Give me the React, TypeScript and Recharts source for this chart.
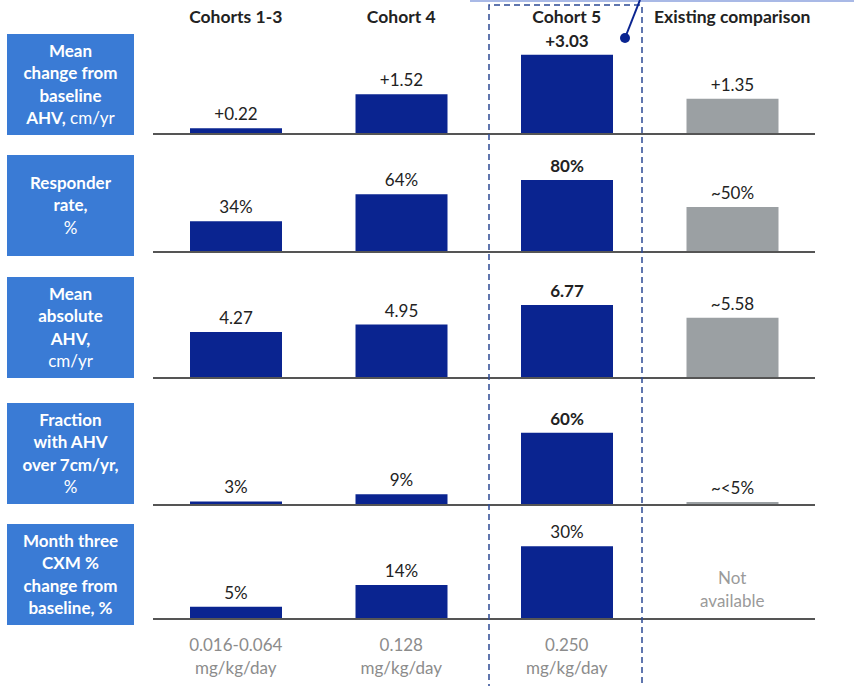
import React from 'react'
import { BarChart, Bar, XAxis, YAxis, Cell, LabelList } from 'recharts'

// column headers and dose captions
const cohorts = ['Cohorts 1-3', 'Cohort 4', 'Cohort 5', 'Existing comparison']
const doses = ['0.016-0.064', '0.128', '0.250']
const doseUnit = 'mg/kg/day'

// metric values per cohort (null = not available)
const ahvChange = [0.22, 1.52, 3.03, 1.35]
const ahvChangeLabels = ['+0.22', '+1.52', '+3.03', '+1.35']
const responderRate = [34, 64, 80, 50]
const responderRateLabels = ['34%', '64%', '80%', '~50%']
const absoluteAhv = [4.27, 4.95, 6.77, 5.58]
const absoluteAhvLabels = ['4.27', '4.95', '6.77', '~5.58']
const fractionOver7 = [3, 9, 60, 2.5]
const fractionOver7Labels = ['3%', '9%', '60%', '~<5%']
const cxmChange = [5, 14, 30, null]
const cxmChangeLabels = ['5%', '14%', '30%', '']

// row titles: each line is [bold part, regular part]
const metricTitles: [string, string][][] = [
  [['Mean', ''], ['change from', ''], ['baseline', ''], ['AHV,', ' cm/yr']],
  [['Responder', ''], ['rate,', ''], ['', '%']],
  [['Mean', ''], ['absolute', ''], ['AHV,', ''], ['', 'cm/yr']],
  [['Fraction', ''], ['with AHV', ''], ['over 7cm/yr,', ''], ['', '%']],
  [['Month three', ''], ['CXM %', ''], ['change from', ''], ['baseline, %', '']],
]

const rowValues = [ahvChange, responderRate, absoluteAhv, fractionOver7, cxmChange]
const rowLabels = [ahvChangeLabels, responderRateLabels, absoluteAhvLabels, fractionOver7Labels, cxmChangeLabels]
const rowMax = [3.82, 111, 9.26, 83, 41.2]
const boldCohort5 = [true, true, true, true, false]

const NAVY = '#0A2490'
const GREY = '#9BA0A3'
const BOX = '#3A7BD5'
const FONT = 'Lato, "Open Sans", sans-serif'

const plotLeft = 153
const plotWidth = 662
const plotHeight = 100
const topMargin = 30
const baselines = [134, 252, 378, 505, 619]
const boxTops = [34, 155, 277, 403, 524]
const colCenter = (i: number) => plotLeft + plotWidth / 8 + (i * plotWidth) / 4

function MetricRow({ row }: { row: number }) {
  const data = cohorts.map((name, i) => ({
    name,
    value: rowValues[row][i],
    label: rowLabels[row][i],
    bold: boldCohort5[row] && i === 2,
  }))

  const renderLabel = (p: any) => {
    const entry = data.find((d) => d.label === p.value)
    if (!entry || !entry.label || entry.value == null) return null
    return (
      <text
        x={p.x + p.width / 2}
        y={p.y - 8}
        textAnchor="middle"
        fontSize={17}
        fontFamily={FONT}
        fontWeight={entry.bold ? 700 : 400}
        fill="#222"
      >
        {entry.label}
      </text>
    )
  }

  return (
    <div style={{ position: 'absolute', left: plotLeft, top: baselines[row] - plotHeight - topMargin }}>
      <BarChart
        width={plotWidth}
        height={plotHeight + topMargin + 1}
        data={data}
        margin={{ top: topMargin, right: 0, bottom: 0, left: 0 }}
      >
        <XAxis
          dataKey="name"
          tick={false}
          tickLine={false}
          height={1}
          axisLine={{ stroke: '#555', strokeWidth: 2 }}
        />
        <YAxis hide domain={[0, rowMax[row]]} allowDataOverflow />
        <Bar dataKey="value" barSize={92} isAnimationActive={false}>
          {data.map((d, i) => (
            <Cell key={d.name} fill={i === 3 ? GREY : NAVY} />
          ))}
          <LabelList dataKey="label" content={renderLabel} />
        </Bar>
      </BarChart>
    </div>
  )
}

function MetricBox({ row }: { row: number }) {
  return (
    <div
      style={{
        position: 'absolute',
        left: 7,
        top: boxTops[row],
        width: 127,
        height: 101,
        background: BOX,
        color: '#fff',
        display: 'flex',
        flexDirection: 'column',
        justifyContent: 'center',
        alignItems: 'center',
        fontFamily: FONT,
        fontSize: 17,
        lineHeight: '22.5px',
        textAlign: 'center',
      }}
    >
      {metricTitles[row].map(([b, r], i) => (
        <div key={i} style={{ whiteSpace: 'nowrap' }}>
          {b && <span style={{ fontWeight: 700 }}>{b}</span>}
          {r && <span style={{ fontWeight: 400 }}>{r}</span>}
        </div>
      ))}
    </div>
  )
}

export default function App() {
  return (
    <div
      style={{
        position: 'absolute',
        left: 0,
        top: 0,
        width: 854,
        height: 686,
        background: '#fff',
        overflow: 'hidden',
        fontFamily: FONT,
      }}
    >
      {cohorts.map((c, i) => (
        <div
          key={c}
          style={{
            position: 'absolute',
            left: colCenter(i) - 90,
            width: 180,
            top: 6,
            textAlign: 'center',
            fontWeight: 700,
            fontSize: 17.5,
            color: '#222',
          }}
        >
          {c}
        </div>
      ))}

      {metricTitles.map((_, row) => (
        <React.Fragment key={row}>
          <MetricBox row={row} />
          <MetricRow row={row} />
        </React.Fragment>
      ))}

      <div
        style={{
          position: 'absolute',
          left: colCenter(3) - 60,
          width: 120,
          top: 566,
          textAlign: 'center',
          color: '#9a9a9a',
          fontSize: 17,
          lineHeight: '23px',
        }}
      >
        Not
        <br />
        available
      </div>

      {doses.map((d, i) => (
        <div
          key={d}
          style={{
            position: 'absolute',
            left: colCenter(i) - 70,
            width: 140,
            top: 633,
            textAlign: 'center',
            color: '#8c8c8c',
            fontSize: 17,
            lineHeight: '23px',
          }}
        >
          {d}
          <br />
          {doseUnit}
        </div>
      ))}

      <svg width={854} height={686} style={{ position: 'absolute', left: 0, top: 0, pointerEvents: 'none' }}>
        <line x1={470} y1={1} x2={854} y2={1} stroke="#A9B9E6" strokeWidth={2} />
        <path
          d="M489 690 V5 H642 V690"
          fill="none"
          stroke="#2D4A94"
          strokeWidth={1.5}
          strokeDasharray="6 4"
        />
        <line x1={640} y1={0} x2={625} y2={38} stroke={NAVY} strokeWidth={2} />
        <circle cx={625} cy={38} r={5} fill={NAVY} />
      </svg>
    </div>
  )
}
